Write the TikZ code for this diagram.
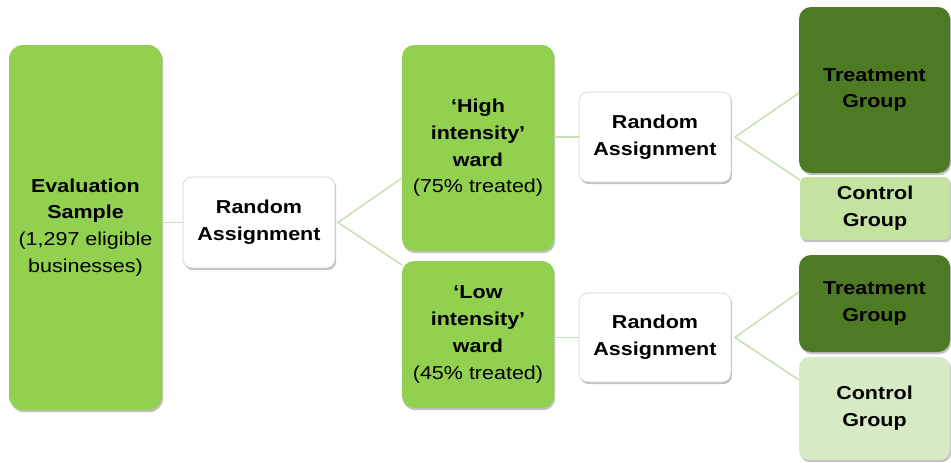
\documentclass[tikz,border=0pt]{standalone}
\usepackage{fontspec}
\setmainfont{Liberation Sans}[FakeStretch=1.15]
\usetikzlibrary{shadows}
\definecolor{mgreen}{HTML}{92D050}
\definecolor{dgreen}{HTML}{4E7A23}
\definecolor{lgreen}{HTML}{C4E3A1}
\definecolor{pgreen}{HTML}{D6EBC5}
\definecolor{lnk}{HTML}{C5E0B3}
\tikzset{
  x=1pt, y=-1pt,
  boxbase/.style={inner sep=2pt, outer sep=0pt, align=center, text=black,
    font=\fontsize{18.7}{26.7}\selectfont,
    drop shadow={shadow xshift=1.2pt, shadow yshift=-2.2pt, opacity=0.35, fill=black!70}},
  greenbox/.style={boxbase, fill=mgreen, rounded corners=14pt},
  whitebox/.style={boxbase, fill=white, draw=black!18, line width=0.6pt, rounded corners=9pt},
  treatbox/.style={boxbase, fill=dgreen, rounded corners=12pt},
  ctrlbox/.style={boxbase, fill=lgreen, rounded corners=6pt},
  ctrlboxb/.style={boxbase, fill=pgreen, rounded corners=10pt},
  link/.style={draw=lnk, line width=1.5pt}
}
\begin{document}
\begin{tikzpicture}
\useasboundingbox (0,0) rectangle (951,463);
\node[greenbox, minimum width=153pt, minimum height=365pt] (eval) at (85.5,227.5)
  {\textbf{Evaluation}\\\textbf{Sample}\\(1,297 eligible\\businesses)};
\node[whitebox, minimum width=152pt, minimum height=91pt] (ra1) at (259,222.5)
  {\textbf{Random}\\\textbf{Assignment}};
\node[greenbox, rounded corners=12pt, minimum width=152pt, minimum height=206pt] (hi) at (478,148)
  {\textbf{‘High}\\\textbf{intensity’}\\\textbf{ward}\\(75\% treated)};
\node[greenbox, rounded corners=12pt, minimum width=152pt, minimum height=147pt] (lo) at (478,334.5)
  {\textbf{‘Low}\\\textbf{intensity’}\\\textbf{ward}\\(45\% treated)};
\node[whitebox, minimum width=152pt, minimum height=90pt] (ra2) at (655,137)
  {\textbf{Random}\\\textbf{Assignment}};
\node[whitebox, minimum width=152pt, minimum height=89pt] (ra3) at (655,337.5)
  {\textbf{Random}\\\textbf{Assignment}};
\node[treatbox, minimum width=151pt, minimum height=166pt] (t1) at (874.5,90)
  {\textbf{Treatment}\\\textbf{Group}};
\node[ctrlbox, minimum width=150pt, minimum height=63pt] (c1) at (875,208.5)
  {\textbf{Control}\\\textbf{Group}};
\node[treatbox, minimum width=151pt, minimum height=97pt] (t2) at (874.5,303.5)
  {\textbf{Treatment}\\\textbf{Group}};
\node[ctrlboxb, minimum width=151pt, minimum height=103pt] (c2) at (874.5,408.5)
  {\textbf{Control}\\\textbf{Group}};
% connectors
\coordinate (ap1) at ([xshift=3pt]ra1.east);
\coordinate (ap2) at ([xshift=4pt]ra2.east);
\coordinate (ap3) at ([xshift=4pt]ra3.east);
\draw[link] (eval.east |- ra1.west) -- (ra1.west);
\draw[link] (hi.west |- 0,178) -- (ap1) -- (lo.west |- 0,265);
\draw[link] (hi.east |- ra2.west) -- (ra2.west);
\draw[link] (lo.east |- ra3.west) -- (ra3.west);
\draw[link] (t1.west |- 0,93) -- (ap2) -- (c1.west |- 0,180);
\draw[link] (t2.west |- 0,292) -- (ap3) -- (c2.west |- 0,380);
\end{tikzpicture}
\end{document}
